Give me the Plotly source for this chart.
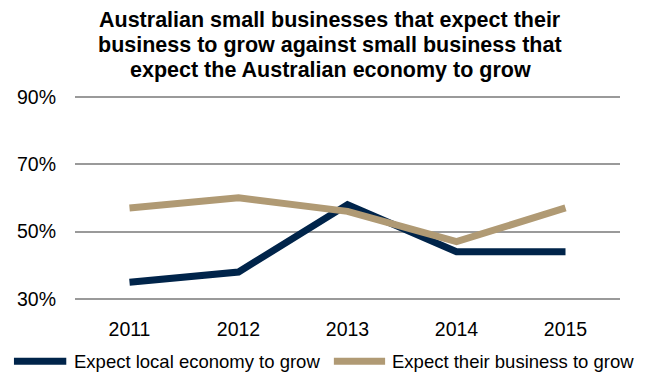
import plotly.graph_objects as go

years = ["2011", "2012", "2013", "2014", "2015"]
local_economy = [35, 38, 58, 44, 44]
own_business = [57, 60, 56, 47, 57]
series_names = ["Expect local economy to grow", "Expect their business to grow"]
y_ticks = [30, 50, 70, 90]
y_tick_labels = ["30%", "50%", "70%", "90%"]
title_lines = [
    "Australian small businesses that expect their",
    "business to grow against small business that",
    "expect the Australian economy to grow",
]

NAVY = "#00244A"
TAN = "#B09A74"
FONT = "Liberation Sans, Arial, sans-serif"

fig = go.Figure()
fig.add_trace(go.Scatter(x=years, y=local_economy, mode="lines",
                         name=series_names[0],
                         line=dict(color=NAVY, width=7)))
fig.add_trace(go.Scatter(x=years, y=own_business, mode="lines",
                         name=series_names[1],
                         line=dict(color=TAN, width=7)))

# Bold three-line heading, one line per annotation for tight line spacing
for line, ypos in zip(title_lines, [1.364, 1.243, 1.121]):
    fig.add_annotation(
        text=f"<b>{line}</b>", xref="paper", yref="paper", x=0.468, y=ypos,
        xanchor="center", yanchor="middle", showarrow=False,
        font=dict(size=21.5, family=FONT, color="#000000"),
    )

# Legend row beneath the axis: a long swatch line followed by its label
legend_y = -0.292
legend_items = [
    (series_names[0], NAVY, -0.112, -0.016, -0.006),
    (series_names[1], TAN, 0.475, 0.569, 0.578),
]
for name, color, x0, x1, tx in legend_items:
    fig.add_shape(type="line", xref="paper", yref="paper",
                  x0=x0, x1=x1, y0=legend_y, y1=legend_y,
                  line=dict(color=color, width=7))
    fig.add_annotation(text=name, xref="paper", yref="paper",
                       x=tx, y=legend_y, xanchor="left", yanchor="middle",
                       showarrow=False,
                       font=dict(size=18.5, family=FONT, color="#000000"))

fig.update_layout(
    width=645, height=372,
    margin=dict(l=75, r=25, t=95, b=71),
    paper_bgcolor="white", plot_bgcolor="white",
    font=dict(family=FONT, color="#000000"),
    showlegend=False,
)
fig.update_xaxes(type="category", range=[-0.5, 4.5], showgrid=False,
                 showline=False, zeroline=False, ticks="",
                 tickfont=dict(size=19.5), ticklabelstandoff=14)
fig.update_yaxes(range=[29.41, 90.5], tickvals=y_ticks, ticktext=y_tick_labels,
                 showgrid=True, gridcolor="#9A9A9A", gridwidth=1.5,
                 zeroline=False, showline=False, ticks="",
                 tickfont=dict(size=19.5), ticklabelstandoff=18)

fig.write_html("out.html")
